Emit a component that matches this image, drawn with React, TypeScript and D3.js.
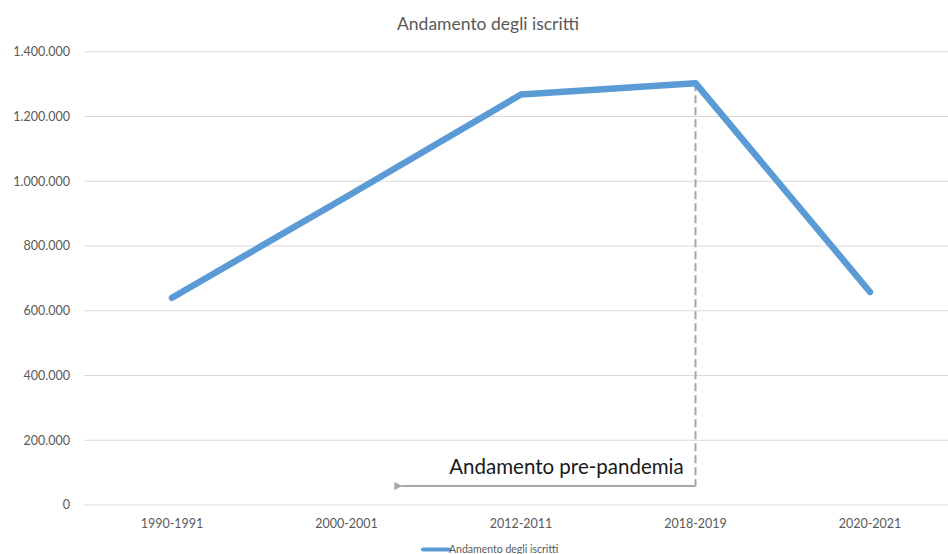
import React from "react";
import * as d3 from "d3";

const categories: string[] = ["1990-1991", "2000-2001", "2012-2011", "2018-2019", "2020-2021"];
const iscritti: number[] = [640000, 952000, 1268000, 1303000, 658000];
const yTicks: number[] = [0, 200000, 400000, 600000, 800000, 1000000, 1200000, 1400000];
const chartTitle = "Andamento degli iscritti";
const seriesName = "Andamento degli iscritti";
const annotationText = "Andamento pre-pandemia";
const pandemicMarker = "2018-2019";
const annotationStart = "2000-2001";

const W = 948;
const H = 554;
const FONT = "Lato, 'Open Sans', sans-serif";

const fmt = (v: number) => d3.format(",")(v).replace(/,/g, ".");

export default function App() {
  const x = d3.scalePoint<string>().domain(categories).range([84.75, 957.25]).padding(0.5);
  const y = d3.scaleLinear().domain([0, 1400000]).range([505, 51.75]);

  const line = d3
    .line<number>()
    .x((_, i) => x(categories[i]) as number)
    .y((d) => y(d));

  const markerX = x(pandemicMarker) as number;
  const markerY = y(iscritti[categories.indexOf(pandemicMarker)]);
  const arrowY = 486;
  const arrowEndX = (x(annotationStart) as number) + 51;

  return (
    <svg
      width={W}
      height={H}
      style={{ position: "fixed", left: 0, top: 0, background: "#fff", display: "block" }}
      fontFamily={FONT}
    >
      <defs>
        <marker id="arrowHead" viewBox="0 0 10 10" refX="1" refY="5" markerWidth="4" markerHeight="4" orient="auto">
          <path d="M10,0 L0,5 L10,10 Z" fill="#a6a6a6" />
        </marker>
      </defs>
      <rect width={W} height={H} fill="#fff" />
      <text x={488} y={30} textAnchor="middle" fontSize={17.5} fill="#595959">
        {chartTitle}
      </text>

      {yTicks.map((t) => (
        <g key={t}>
          <line x1={84} x2={W} y1={y(t)} y2={y(t)} stroke="#d9d9d9" strokeWidth={1} />
          <text x={70} y={y(t)} dy="0.35em" textAnchor="end" fontSize={12.5} fill="#595959">
            {fmt(t)}
          </text>
        </g>
      ))}

      {categories.map((c) => (
        <text key={c} x={x(c) as number} y={528} textAnchor="middle" fontSize={12.5} fill="#595959">
          {c}
        </text>
      ))}

      <line
        x1={markerX}
        x2={markerX}
        y1={markerY}
        y2={arrowY}
        stroke="#a6a6a6"
        strokeWidth={2}
        strokeDasharray="8,4"
      />
      <line
        x1={markerX}
        x2={arrowEndX + 4}
        y1={arrowY}
        y2={arrowY}
        stroke="#a6a6a6"
        strokeWidth={2}
        markerEnd="url(#arrowHead)"
      />
      <text x={566.5} y={474} textAnchor="middle" fontSize={20.5} fill="#1a1a1a">
        {annotationText}
      </text>

      <path
        d={line(iscritti) ?? ""}
        fill="none"
        stroke="#5b9bd5"
        strokeWidth={6.5}
        strokeLinecap="round"
        strokeLinejoin="round"
      />

      <line x1={423} x2={449} y1={549.5} y2={549.5} stroke="#5b9bd5" strokeWidth={4} strokeLinecap="round" />
      <text x={449} y={549.5} dy="0.35em" fontSize={10.5} fill="#595959">
        {seriesName}
      </text>
    </svg>
  );
}
